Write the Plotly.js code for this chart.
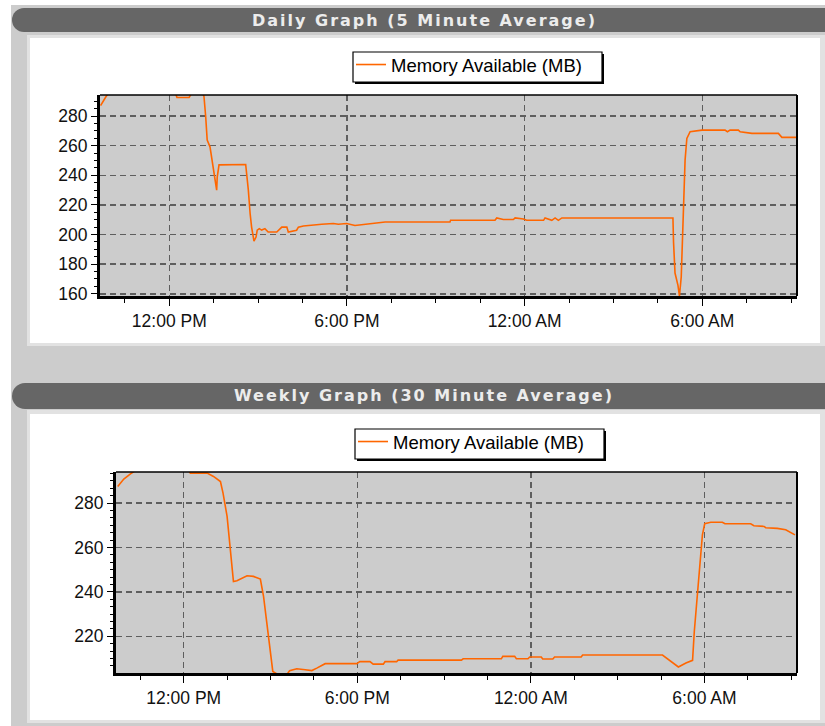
<!DOCTYPE html>
<html>
<head>
<meta charset="utf-8">
<script src="https://cdn.plot.ly/plotly-3.0.1.min.js"></script>
<style>html,body{margin:0;padding:0;background:#fff;}#chart{width:825px;height:726px;}</style>
</head>
<body>
<div id="chart"></div>
<script>
// ---- data (hours since midnight of day 1, MB) ----
const seriesName = 'Memory Available (MB)';
const dailyTitle = 'Daily Graph (5 Minute Average)';
const weeklyTitle = 'Weekly Graph (30 Minute Average)';

const dailyHours = [9.68, 9.76, 9.86, 9.93, 10.0, 12.2, 12.26, 12.67, 12.77, 13.1, 13.17, 13.23, 13.28, 13.375, 13.49, 13.54, 13.60, 13.62, 13.68, 14.58, 14.635, 14.67, 14.73, 14.78, 14.86, 14.93, 14.97, 15.04, 15.12, 15.23, 15.34, 15.63, 15.80, 15.97, 16.02, 16.30, 16.36, 16.53, 17.15, 17.54, 17.71, 17.99, 18.27, 18.67, 19.29, 21.48, 21.5, 23.00, 23.06, 23.28, 23.62, 23.68, 23.96, 24.07, 24.64, 24.69, 24.92, 25.03, 25.14, 25.26, 29.01, 29.03, 29.08, 29.18, 29.23, 29.29, 29.33, 29.36, 29.42, 29.48, 29.59, 29.99, 30.77, 30.85, 30.94, 31.22, 31.28, 31.68, 32.57, 32.69, 33.17];
const dailyMB = [287, 290, 293, 295, 296, 296, 292.5, 292.5, 296, 296, 293.5, 279.5, 263.8, 259.2, 245.7, 237.8, 230, 239, 247, 247.3, 239, 230, 214.2, 205, 195.6, 198.3, 202.9, 204, 203, 204, 201.7, 201.7, 205, 205, 201.7, 202.9, 205, 205.8, 206.9, 207.4, 206.9, 207.4, 206.1, 206.9, 208.5, 208.5, 209.6, 209.6, 211.2, 210.1, 210.1, 211.2, 210.5, 209.6, 209.6, 211.2, 209.6, 211.2, 209.6, 211.2, 211.2, 195, 174, 165.7, 158.5, 171.3, 198.3, 224.3, 250.2, 264.9, 269.4, 270.5, 270.5, 269.4, 270.5, 270.5, 269.4, 268.3, 268.3, 265.6, 265.6];

const weeklyHours = [9.72, 9.93, 10.16, 10.33, 10.5, 12.1, 12.23, 12.81, 13.03, 13.27, 13.36, 13.50, 13.61, 13.72, 13.84, 14.19, 14.41, 14.65, 14.76, 14.88, 14.97, 15.08, 15.3, 15.55, 15.66, 15.91, 16.20, 16.43, 16.60, 16.89, 17.98, 18.09, 18.44, 18.55, 18.90, 18.96, 19.36, 19.41, 21.60, 21.66, 22.98, 23.03, 23.44, 23.50, 23.90, 23.96, 24.36, 24.41, 24.76, 24.82, 25.74, 25.79, 28.55, 28.78, 29.10, 29.36, 29.59, 29.65, 29.70, 29.76, 29.82, 29.88, 29.93, 30.01, 30.22, 30.62, 30.71, 31.60, 31.71, 32.06, 32.12, 32.52, 32.81, 33.13];
const weeklyMB = [287.5, 290.8, 293.2, 294.5, 296, 296, 293.5, 293.5, 292, 289.7, 284.5, 274, 260.5, 244.7, 245, 247.3, 247, 245.8, 238, 226, 217, 204.2, 202.5, 202.5, 204.5, 205.4, 205, 204.6, 205.7, 207.7, 207.7, 208.6, 208.6, 207.5, 207.5, 208.6, 208.6, 209.3, 209.3, 209.9, 209.9, 211, 211, 209.9, 209.9, 210.7, 210.7, 209.8, 209.8, 210.7, 210.7, 211.6, 211.6, 209.5, 206.2, 208, 209.2, 222.2, 230.5, 240.2, 248.2, 257.5, 265.7, 270.7, 271.4, 271.4, 270.7, 270.7, 269.8, 269.5, 268.9, 268.6, 268, 265.7];

const xTickHours = [12, 18, 24, 30];
const xTickLabels = ['12:00 PM', '6:00 PM', '12:00 AM', '6:00 AM'];

// ---- layout helpers (pixels -> paper) ----
const W = 825, H = 726;
const px = x => x / W;
const py = y => 1 - y / H;
function rect(x0, y0, x1, y1, fill, layer, line) {
  return {type: 'rect', xref: 'paper', yref: 'paper', x0: px(x0), x1: px(x1), y0: py(y1), y1: py(y0),
          fillcolor: fill, line: line || {width: 0}, layer: layer || 'below'};
}
function circ(x0, y0, x1, y1, fill) {
  return {type: 'circle', xref: 'paper', yref: 'paper', x0: px(x0), x1: px(x1), y0: py(y1), y1: py(y0),
          fillcolor: fill, line: {width: 0}, layer: 'below'};
}

const D = {l: 100, t: 95, r: 797, b: 296};   // daily plot area
const K = {l: 116, t: 472, r: 797, b: 673};  // weekly plot area
const LD = {l: 353, t: 52, r: 602, b: 82};   // daily legend box
const LK = {l: 355, t: 429, r: 604, b: 459}; // weekly legend box

const tickFont = {family: 'Liberation Sans, Arial, sans-serif', size: 17.5, color: '#111'};
const gridStyle = {showgrid: true, gridcolor: '#5e5e5e', gridwidth: 1.5, griddash: '6px,4px'};

function xAxis(area, anchor) {
  return Object.assign({
    domain: [px(area.l), px(area.r)], anchor: anchor, range: [9.66, 33.2],
    tickmode: 'array', tickvals: xTickHours, ticktext: xTickLabels,
    ticks: 'outside', ticklen: 7, tickcolor: '#000', tickwidth: 1,
    minor: {tickmode: 'linear', tick0: 0, dtick: 1.5, ticks: 'outside', ticklen: 4, tickcolor: '#000', showgrid: false},
    showline: true, linecolor: '#000', linewidth: 3, zeroline: false, tickfont: tickFont, fixedrange: true
  }, gridStyle);
}
function yAxis(area, anchor, range, minorStep) {
  return Object.assign({
    domain: [py(area.b), py(area.t)], anchor: anchor, range: range,
    tickmode: 'linear', tick0: 0, dtick: 20,
    ticks: 'outside', ticklen: 6, tickcolor: '#000', tickwidth: 1,
    minor: {tickmode: 'linear', tick0: 0, dtick: minorStep, ticks: 'outside', ticklen: 3, tickcolor: '#000', showgrid: false},
    showline: true, linecolor: '#000', linewidth: 3, zeroline: false, tickfont: tickFont, fixedrange: true
  }, gridStyle);
}

const shapes = [
  rect(0, 0, 825, 726, '#cccccc'),
  rect(0, 0, 11, 726, '#ffffff'),
  rect(0, 0, 825, 5, '#ffffff'),
  // headers
  circ(12, 8, 36, 32, '#666666'), rect(24, 8, 825, 32, '#666666'),
  circ(12, 383, 38, 409, '#666666'), rect(25, 383, 825, 409, '#666666'),
  // white panels
  rect(27, 35, 825, 346, '#e2e2e2'), rect(30, 38, 820, 343, '#ffffff'),
  rect(27, 410, 825, 723, '#e2e2e2'), rect(30, 414, 820, 720, '#ffffff'),
  // plot areas
  rect(D.l, D.t, D.r, D.b, '#cccccc'), rect(K.l, K.t, K.r, K.b, '#cccccc'),
  // legend frames with drop shadow
  rect(LD.l + 2, LD.t + 2, LD.r + 2, LD.b + 2, '#000000'),
  rect(LD.l, LD.t, LD.r, LD.b, '#ffffff', 'below', {color: '#000', width: 1.2}),
  rect(LK.l + 2, LK.t + 2, LK.r + 2, LK.b + 2, '#000000'),
  rect(LK.l, LK.t, LK.r, LK.b, '#ffffff', 'below', {color: '#000', width: 1.2}),
  // top / right frame
  {type: 'line', xref: 'x domain', yref: 'y domain', x0: 0, x1: 1, y0: 1, y1: 1, line: {color: '#000', width: 1.5}},
  {type: 'line', xref: 'x domain', yref: 'y domain', x0: 1, x1: 1, y0: 0, y1: 1, line: {color: '#000', width: 2}},
  {type: 'line', xref: 'x2 domain', yref: 'y2 domain', x0: 0, x1: 1, y0: 1, y1: 1, line: {color: '#000', width: 1.5}},
  {type: 'line', xref: 'x2 domain', yref: 'y2 domain', x0: 1, x1: 1, y0: 0, y1: 1, line: {color: '#000', width: 2}}
];

const titleFont = {family: 'DejaVu Sans, sans-serif', size: 16, color: '#ececec', weight: 'bold'};
const annotations = [
  {xref: 'paper', yref: 'paper', x: px(424), y: py(20), xanchor: 'center', yanchor: 'middle', showarrow: false,
   text: '<span style="letter-spacing:2px">' + dailyTitle + '</span>', font: titleFont},
  {xref: 'paper', yref: 'paper', x: px(424), y: py(396), xanchor: 'center', yanchor: 'middle', showarrow: false,
   text: '<span style="letter-spacing:2px">' + weeklyTitle + '</span>', font: titleFont}
];

const legendBase = {xanchor: 'left', yanchor: 'top', bgcolor: 'rgba(0,0,0,0)', borderwidth: 0,
  orientation: 'h', entrywidth: 200, entrywidthmode: 'pixels',
  font: {family: 'Liberation Sans, Arial, sans-serif', size: 18.5, color: '#000'}};

const traces = [
  {x: dailyHours, y: dailyMB, xaxis: 'x', yaxis: 'y', type: 'scatter', mode: 'lines', name: seriesName,
   line: {color: '#ff6600', width: 1.6}, legend: 'legend', hoverinfo: 'skip'},
  {x: weeklyHours, y: weeklyMB, xaxis: 'x2', yaxis: 'y2', type: 'scatter', mode: 'lines', name: seriesName,
   line: {color: '#ff6600', width: 1.6}, legend: 'legend2', hoverinfo: 'skip'}
];

const layout = {
  width: W, height: H, margin: {l: 0, r: 0, t: 0, b: 0},
  paper_bgcolor: '#cccccc', plot_bgcolor: 'rgba(0,0,0,0)',
  showlegend: true,
  legend: Object.assign({x: px(LD.l - 2), y: py(LD.t - 6)}, legendBase),
  legend2: Object.assign({x: px(LK.l - 2), y: py(LK.t - 6)}, legendBase),
  xaxis: xAxis(D, 'y'), yaxis: yAxis(D, 'x', [158.5, 294.2], 5),
  xaxis2: xAxis(K, 'y2'), yaxis2: yAxis(K, 'x2', [203.5, 294], 10 / 3),
  shapes: shapes, annotations: annotations
};

Plotly.newPlot('chart', traces, layout, {staticPlot: true, displayModeBar: false});
</script>
</body>
</html>
